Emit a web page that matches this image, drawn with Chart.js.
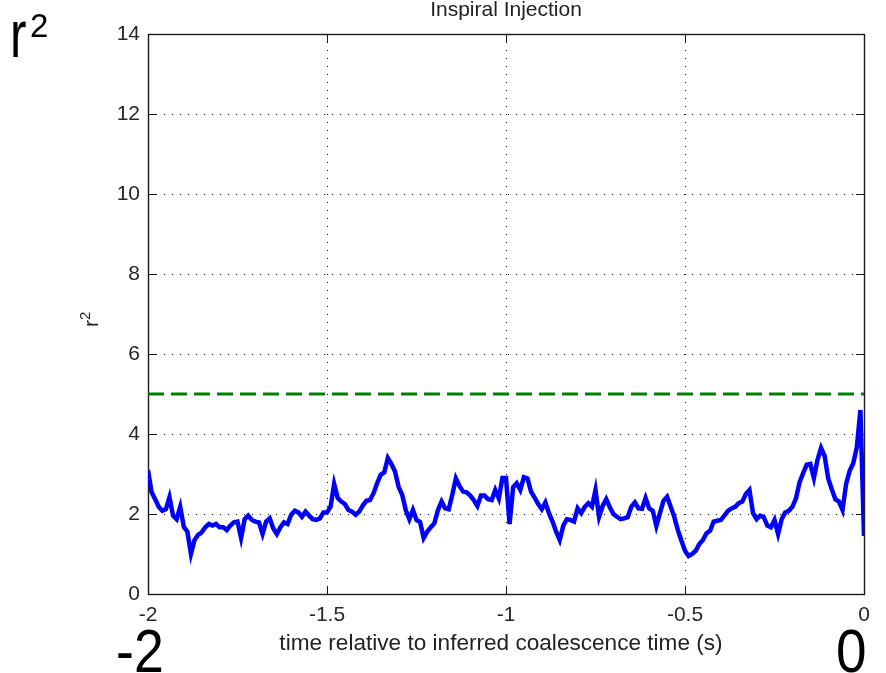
<!DOCTYPE html>
<html>
<head>
<meta charset="utf-8">
<title>Inspiral Injection</title>
<script src="https://cdn.jsdelivr.net/npm/chart.js@4.4.1/dist/chart.umd.min.js"></script>
<style>
  html, body { margin: 0; padding: 0; background: #ffffff; }
  #wrap { position: relative; width: 886px; height: 673px; }
  canvas { position: absolute; left: 0; top: 0; }
</style>
</head>
<body>
<div id="wrap"><canvas id="plot" width="886" height="673"></canvas></div>
<script>
// r^2 statistic sampled every 10 ms over the last two seconds before coalescence
const startTime = -2;
const sampleStep = 0.01;
const rsq = [
  3.10, 2.55, 2.37, 2.18, 2.08, 2.12, 2.42, 1.96, 1.87, 2.18,
  1.68, 1.56, 1.00, 1.35, 1.48, 1.54, 1.67, 1.75, 1.71, 1.75,
  1.67, 1.67, 1.60, 1.71, 1.79, 1.81, 1.40, 1.87, 1.96, 1.85,
  1.81, 1.79, 1.50, 1.81, 1.89, 1.64, 1.50, 1.67, 1.79, 1.75,
  1.98, 2.08, 2.04, 1.93, 2.06, 1.96, 1.87, 1.85, 1.89, 2.04,
  2.04, 2.18, 2.75, 2.40, 2.31, 2.25, 2.10, 2.06, 1.98, 2.06,
  2.21, 2.33, 2.35, 2.52, 2.77, 2.98, 3.04, 3.40, 3.25, 3.06,
  2.68, 2.48, 2.10, 1.87, 2.10, 1.85, 1.80, 1.40, 1.56, 1.67,
  1.77, 2.10, 2.31, 2.14, 2.12, 2.48, 2.89, 2.70, 2.56, 2.54,
  2.46, 2.35, 2.20, 2.46, 2.46, 2.37, 2.35, 2.60, 2.39, 2.90,
  2.90, 1.75, 2.67, 2.77, 2.60, 2.92, 2.89, 2.56, 2.41, 2.25,
  2.12, 2.29, 2.02, 1.81, 1.56, 1.35, 1.71, 1.87, 1.85, 1.81,
  2.14, 2.02, 2.18, 2.27, 2.18, 2.60, 1.93, 2.20, 2.37, 2.17,
  2.00, 1.93, 1.87, 1.89, 1.92, 2.18, 2.29, 2.14, 2.13, 2.40,
  2.14, 2.08, 1.70, 2.02, 2.33, 2.43, 2.18, 1.93, 1.60, 1.33,
  1.08, 0.95, 1.00, 1.08, 1.25, 1.35, 1.52, 1.58, 1.81, 1.83,
  1.85, 1.96, 2.08, 2.14, 2.18, 2.27, 2.31, 2.50, 2.60, 2.02,
  1.87, 1.96, 1.92, 1.71, 1.67, 1.85, 1.50, 1.87, 2.04, 2.08,
  2.18, 2.39, 2.79, 3.02, 3.23, 3.25, 2.90, 3.35, 3.65, 3.45,
  2.89, 2.62, 2.37, 2.31, 2.10, 2.75, 3.08, 3.27, 3.67, 4.60,
  1.45
];

// detection threshold drawn across the whole window
const threshold = 5;
const thresholdSpan = [-2, 0];

// axis ticks
const xTicks = [-2, -1.5, -1, -0.5, 0];
const xTickLabels = ['-2', '-1.5', '-1', '-0.5', '0'];
const yTicks = [0, 2, 4, 6, 8, 10, 12, 14];
const yTickLabels = ['0', '2', '4', '6', '8', '10', '12', '14'];

const rsqPoints = rsq.map((v, i) => ({ x: startTime + i * sampleStep, y: v }));
const thresholdPoints = thresholdSpan.map(t => ({ x: t, y: threshold }));

const labelFont = '"Liberation Sans", Arial, Helvetica, sans-serif';

// box frame with inward tick marks on all four sides, plus the text labels
const frameAndTicks = {
  id: 'frameAndTicks',
  beforeDatasetsDraw(chart) {
    const { ctx, chartArea: a, scales } = chart;
    const tick = 8;
    ctx.save();
    ctx.strokeStyle = '#1a1a1a';
    ctx.lineWidth = 1;
    ctx.setLineDash([]);
    ctx.beginPath();
    for (const v of yTicks) {
      const y = Math.round(scales.y.getPixelForValue(v)) + 0.5;
      ctx.moveTo(a.left, y); ctx.lineTo(a.left + tick, y);
      ctx.moveTo(a.right, y); ctx.lineTo(a.right - tick, y);
    }
    for (const v of xTicks) {
      const x = Math.round(scales.x.getPixelForValue(v)) + 0.5;
      ctx.moveTo(x, a.bottom); ctx.lineTo(x, a.bottom - tick);
      ctx.moveTo(x, a.top); ctx.lineTo(x, a.top + tick);
    }
    ctx.stroke();
    ctx.lineWidth = 1.4;
    ctx.strokeRect(Math.round(a.left) + 0.5, Math.round(a.top) + 0.5,
                   Math.round(a.right - a.left), Math.round(a.bottom - a.top));
    ctx.restore();
  },
  afterDraw(chart) {
    const { ctx, chartArea: a } = chart;
    ctx.save();
    ctx.fillStyle = '#222';
    ctx.textBaseline = 'alphabetic';

    // title
    ctx.font = '21px ' + labelFont;
    ctx.textAlign = 'center';
    ctx.fillText('Inspiral Injection', (a.left + a.right) / 2, 16);

    // x axis title
    ctx.font = '22.6px ' + labelFont;
    ctx.fillText('time relative to inferred coalescence time (s)', 501, 650);

    // y axis title, rotated
    ctx.save();
    ctx.translate(98, 327);
    ctx.rotate(-Math.PI / 2);
    ctx.textAlign = 'left';
    ctx.font = '21px ' + labelFont;
    ctx.fillText('r', 0, 0);
    ctx.font = '15px ' + labelFont;
    ctx.fillText('2', 7, -8);
    ctx.restore();

    // large corner labels
    ctx.fillStyle = '#000';
    ctx.textAlign = 'left';
    ctx.save();
    ctx.translate(10, 57);
    ctx.scale(0.75, 1);
    ctx.font = '66px ' + labelFont;
    ctx.fillText('r', 0, 0);
    ctx.restore();
    ctx.font = '33px ' + labelFont;
    ctx.fillText('2', 30, 37);

    ctx.save();
    ctx.translate(116, 672);
    ctx.scale(0.88, 1);
    ctx.font = '61px ' + labelFont;
    ctx.fillText('-2', 0, 0);
    ctx.restore();

    ctx.save();
    ctx.translate(836, 672);
    ctx.scale(0.9, 1);
    ctx.font = '61px ' + labelFont;
    ctx.fillText('0', 0, 0);
    ctx.restore();
    ctx.restore();
  }
};

new Chart(document.getElementById('plot'), {
  type: 'line',
  data: {
    datasets: [
      {
        label: 'r²',
        data: rsqPoints,
        borderColor: '#0000ff',
        borderWidth: 4.5,
        pointRadius: 0,
        tension: 0,
        fill: false,
        order: 1
      },
      {
        label: 'threshold',
        data: thresholdPoints,
        borderColor: '#008000',
        borderWidth: 3,
        borderDash: [16, 7],
        pointRadius: 0,
        tension: 0,
        fill: false,
        order: 2
      }
    ]
  },
  options: {
    responsive: false,
    animation: false,
    events: [],
    layout: { padding: { left: 0, top: 34, right: 22, bottom: 0 } },
    plugins: {
      legend: { display: false },
      tooltip: { enabled: false },
      title: { display: false }
    },
    scales: {
      x: {
        type: 'linear',
        min: -2,
        max: 0,
        afterFit(s) { s.height = 79; },
        afterBuildTicks(s) { s.ticks = xTicks.map(v => ({ value: v })); },
        ticks: {
          autoSkip: false,
          maxRotation: 0,
          padding: 9,
          color: '#262626',
          font: { family: labelFont, size: 21 },
          callback: (v) => xTickLabels[xTicks.indexOf(v)] ?? ''
        },
        grid: { color: '#000', lineWidth: 1, drawTicks: false },
        border: { display: false, dash: [1, 7] }
      },
      y: {
        type: 'linear',
        min: 0,
        max: 14,
        afterFit(s) { s.width = 148; },
        afterBuildTicks(s) { s.ticks = yTicks.map(v => ({ value: v })); },
        ticks: {
          autoSkip: false,
          padding: 8,
          color: '#262626',
          font: { family: labelFont, size: 21 },
          callback: (v) => yTickLabels[yTicks.indexOf(v)] ?? ''
        },
        grid: { color: '#000', lineWidth: 1, drawTicks: false },
        border: { display: false, dash: [1, 7] }
      }
    }
  },
  plugins: [frameAndTicks]
});
</script>
</body>
</html>
